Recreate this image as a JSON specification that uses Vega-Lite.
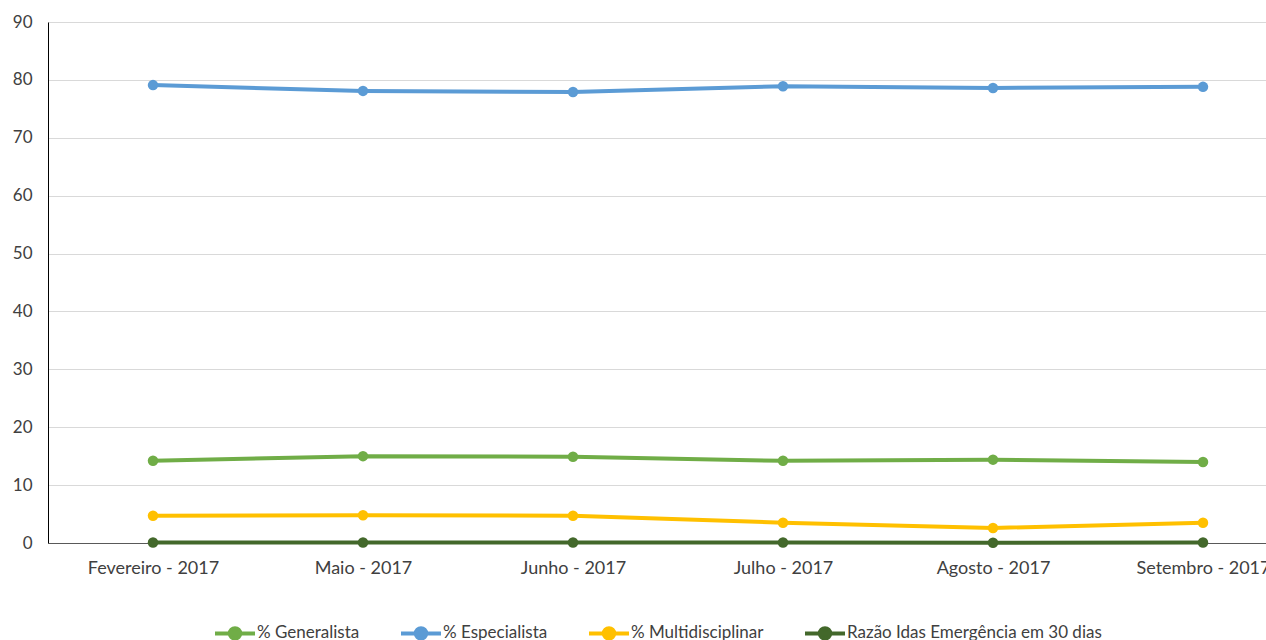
{
  "$schema": "https://vega.github.io/schema/vega-lite/v6.json",
  "width": 1260,
  "height": 521,
  "autosize": {"type": "none"},
  "padding": {"left": 48, "top": 22, "right": 0, "bottom": 97},
  "background": "white",
  "config": {
    "view": {"stroke": null},
    "font": "Lato",
    "axis": {"labelFont": "Lato", "labelFontSize": 17, "labelColor": "#404040", "ticks": false, "title": null}
  },
  "data": {
    "values": [
      {"mes": "Fevereiro - 2017", "serie": "% Generalista", "valor": 14.2},
      {"mes": "Maio - 2017", "serie": "% Generalista", "valor": 15.0},
      {"mes": "Junho - 2017", "serie": "% Generalista", "valor": 14.9},
      {"mes": "Julho - 2017", "serie": "% Generalista", "valor": 14.2},
      {"mes": "Agosto - 2017", "serie": "% Generalista", "valor": 14.4},
      {"mes": "Setembro - 2017", "serie": "% Generalista", "valor": 14.0},
      {"mes": "Fevereiro - 2017", "serie": "% Especialista", "valor": 79.1},
      {"mes": "Maio - 2017", "serie": "% Especialista", "valor": 78.1},
      {"mes": "Junho - 2017", "serie": "% Especialista", "valor": 77.9},
      {"mes": "Julho - 2017", "serie": "% Especialista", "valor": 78.9},
      {"mes": "Agosto - 2017", "serie": "% Especialista", "valor": 78.6},
      {"mes": "Setembro - 2017", "serie": "% Especialista", "valor": 78.8},
      {"mes": "Fevereiro - 2017", "serie": "% Multidisciplinar", "valor": 4.7},
      {"mes": "Maio - 2017", "serie": "% Multidisciplinar", "valor": 4.8},
      {"mes": "Junho - 2017", "serie": "% Multidisciplinar", "valor": 4.7},
      {"mes": "Julho - 2017", "serie": "% Multidisciplinar", "valor": 3.5},
      {"mes": "Agosto - 2017", "serie": "% Multidisciplinar", "valor": 2.6},
      {"mes": "Setembro - 2017", "serie": "% Multidisciplinar", "valor": 3.5},
      {"mes": "Fevereiro - 2017", "serie": "Razão Idas Emergência em 30 dias", "valor": 0.1},
      {"mes": "Maio - 2017", "serie": "Razão Idas Emergência em 30 dias", "valor": 0.1},
      {"mes": "Junho - 2017", "serie": "Razão Idas Emergência em 30 dias", "valor": 0.1},
      {"mes": "Julho - 2017", "serie": "Razão Idas Emergência em 30 dias", "valor": 0.1},
      {"mes": "Agosto - 2017", "serie": "Razão Idas Emergência em 30 dias", "valor": 0.05},
      {"mes": "Setembro - 2017", "serie": "Razão Idas Emergência em 30 dias", "valor": 0.1}
    ]
  },
  "mark": {"type": "line", "strokeWidth": 4, "point": {"filled": true, "size": 110}},
  "encoding": {
    "x": {
      "field": "mes", "type": "ordinal", "sort": null,
      "scale": {"type": "point", "padding": 0.5},
      "axis": {"labelAngle": 0, "labelPadding": 16, "labelFontSize": 18, "domainColor": "#595959", "domainWidth": 1, "grid": false}
    },
    "y": {
      "field": "valor", "type": "quantitative",
      "scale": {"domain": [0, 90], "nice": false},
      "axis": {"values": [0, 10, 20, 30, 40, 50, 60, 70, 80, 90], "labelPadding": 16, "domainColor": "#000000", "domainWidth": 1, "gridColor": "#D9D9D9", "gridWidth": 1}
    },
    "color": {
      "field": "serie", "type": "nominal",
      "scale": {
        "domain": ["% Generalista", "% Especialista", "% Multidisciplinar", "Razão Idas Emergência em 30 dias"],
        "range": ["#70AD47", "#5B9BD5", "#FFC000", "#43682B"]
      },
      "legend": {
        "title": null,
        "orient": "none",
        "direction": "horizontal",
        "legendX": 165,
        "legendY": 589,
        "symbolType": "M-1,0H1M-0.26,0A0.26,0.26 0 1,1 0.26,0A0.26,0.26 0 1,1 -0.26,0Z",
        "symbolSize": 1600,
        "symbolStrokeWidth": 4,
        "labelFont": "Lato",
        "labelFontSize": 17,
        "labelColor": "#404040",
        "labelOffset": 0,
        "columnPadding": 33,
        "labelLimit": 400,
        "encode": {
          "symbols": {
            "update": {
              "stroke": {"scale": "color", "field": "value"},
              "fill": {"scale": "color", "field": "value"},
              "strokeWidth": {"value": 4},
              "opacity": {"value": 1}
            }
          }
        }
      }
    }
  }
}
